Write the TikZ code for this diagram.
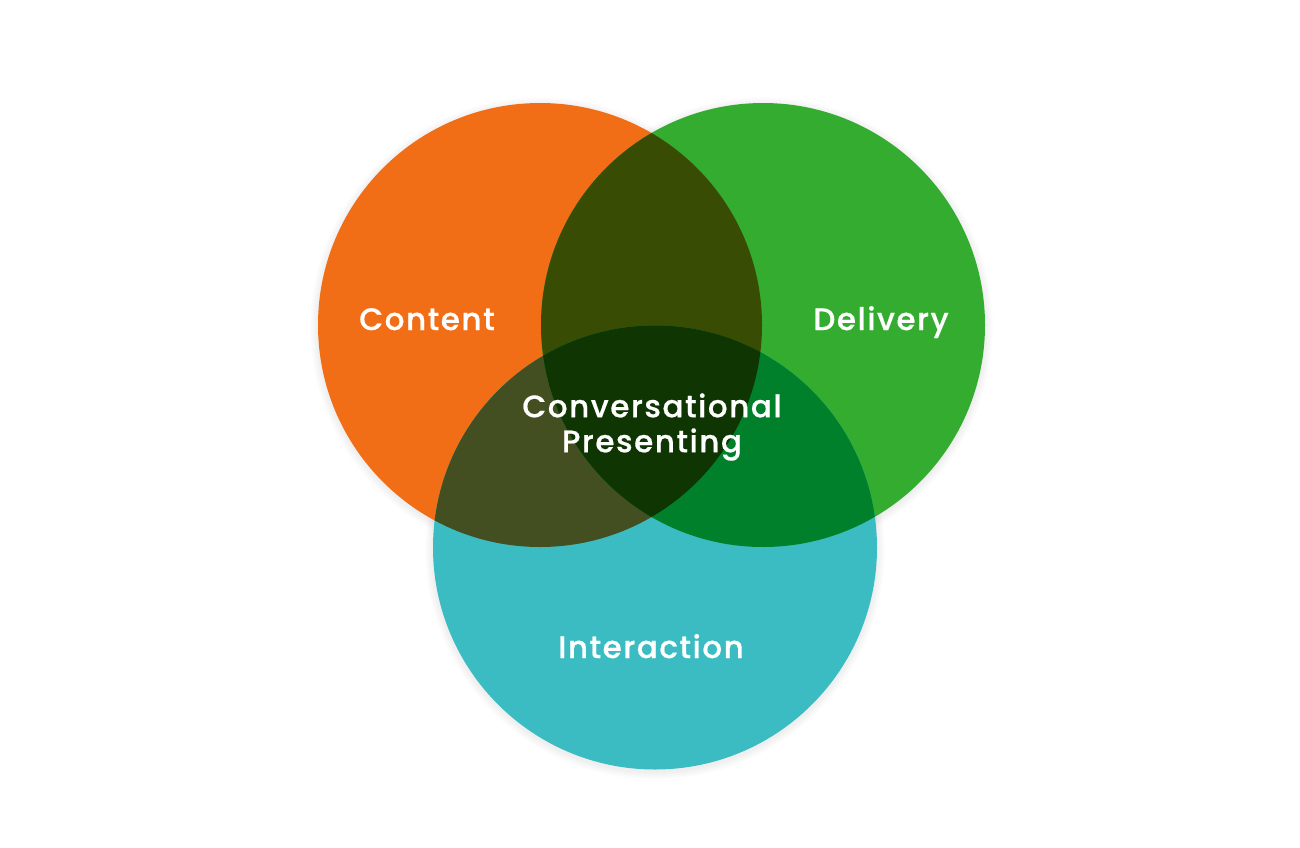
\documentclass[tikz,border=0pt]{standalone}
\usepackage{fontspec}
\newfontfamily\pop[LetterSpace=5,FakeBold=0.6]{Poppins Medium}
\definecolor{cor}{HTML}{F26E16}
\definecolor{cgr}{HTML}{33AC30}
\definecolor{cte}{HTML}{3BBCC3}
\definecolor{cog}{HTML}{384C03}
\definecolor{cot}{HTML}{434F20}
\definecolor{cgt}{HTML}{00802A}
\definecolor{call}{HTML}{0F3503}
\tikzset{lbl/.style={text=white,font=\pop\fontsize{31}{35}\selectfont,align=center,inner sep=0pt}}
\begin{document}
\begin{tikzpicture}[x=1pt,y=-1pt]
\useasboundingbox (0,0) rectangle (1300,847);
\fill[white] (0,0) rectangle (1300,847);
\def\rr{222}
\coordinate (co) at (540,325);
\coordinate (cg) at (763,325);
\coordinate (ct) at (655,547.5);
% faint soft shadow
\foreach \d in {1,2,...,8}{
  \fill[black,opacity=0.008] ([yshift=-2pt]co) circle (\rr+\d);
  \fill[black,opacity=0.008] ([yshift=-2pt]cg) circle (\rr+\d);
  \fill[black,opacity=0.008] ([yshift=-2pt]ct) circle (\rr+\d);
}
\fill[cor] (co) circle (\rr);
\fill[cgr] (cg) circle (\rr);
\fill[cte] (ct) circle (\rr);
\begin{scope}
\clip (co) circle (\rr);
\fill[cog] (cg) circle (\rr);
\fill[cot] (ct) circle (\rr);
\end{scope}
\begin{scope}
\clip (cg) circle (\rr);
\fill[cgt] (ct) circle (\rr);
\end{scope}
\begin{scope}
\clip (co) circle (\rr);
\clip (cg) circle (\rr);
\fill[call] (ct) circle (\rr);
\end{scope}
\node[lbl,anchor=base] (content) at (427,330) {Content};
\node[lbl,anchor=base] (delivery) at (881,330) {Delivery};
\node[lbl,anchor=base] (interaction) at (651,658) {Interaction};
\node[lbl] (conv) at (652,427) {Conversational\\Presenting};
\end{tikzpicture}
\end{document}
